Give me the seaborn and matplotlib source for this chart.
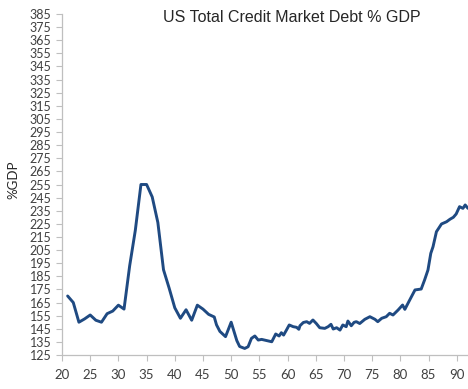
import matplotlib
matplotlib.use("Agg")
import matplotlib.pyplot as plt
import seaborn as sns
import pandas as pd

years = [21, 22, 23, 24, 25, 26, 27, 28, 29, 30, 31, 32, 33, 34, 35, 36, 37, 38, 39,
         40, 41, 42, 43, 44, 45, 46, 47, 47.4, 48, 49, 50, 51,
         51.5, 52.4, 53, 53.6, 54.2, 54.8, 55.4, 56.3, 57.2, 57.9, 58.5, 58.9, 59.3,
         59.8, 60.3, 61, 61.6, 62, 62.2, 62.8, 63.4, 63.9, 64.5, 65.1, 65.7, 66.6,
         67.2, 67.7, 68.1, 68.7, 69.3, 69.8, 70.4, 70.7, 71.3, 71.8, 72.2, 72.8,
         73.7, 74.6, 75.5, 76, 76.7, 77.5, 78.1, 78.7, 79.6, 80.4, 80.8, 81.5,
         82.6, 83.7, 84.3, 84.9, 85.4, 85.8, 86.4, 87.3, 88.2, 88.8, 89.4, 89.9,
         90.5, 91.1, 91.5, 92]
debt_pct_gdp = [170, 165, 150, 152.5, 155.5, 151.5, 150, 156.5, 158.5, 163, 160, 193, 220, 255, 255, 245.5, 226, 190, 176,
                161, 153, 159.5, 151.5, 163, 160, 156, 154, 148, 143, 139, 150, 136,
                131.5, 130, 131.3, 137.7, 139.5, 136.4, 136.9, 136, 135.1, 141, 139.5, 142, 140.2,
                144, 147.9, 146.6, 146.1, 144.6, 147.3, 149.8, 150.4, 149.1, 151.7, 149, 145.8, 145.3,
                146.6, 148.4, 144.8, 145.8, 144, 147.9, 146.6, 150.9, 147.3, 149.9, 150.4, 149,
                152.2, 154.2, 152.2, 150.4, 153, 154.2, 156.8, 155.5, 159.3, 163.1, 159.8, 165.6,
                174.6, 175.3, 182.2, 189.8, 202.5, 207.6, 219, 224.9, 226.6, 228.5, 230, 232.5,
                238.1, 236.8, 239.4, 236.8]

y_ticks = list(range(125, 386, 10))
x_ticks = list(range(20, 91, 5))

df = pd.DataFrame({"year": years, "pct": debt_pct_gdp})

sns.set_style("white")
plt.rcParams["font.family"] = ["Lato", "DejaVu Sans"]

fig = plt.figure(figsize=(4.68, 3.89), dpi=100)
ax = fig.add_axes([62/468, 1 - 355/389, 1 - 62/468, (355 - 14)/389])

sns.lineplot(data=df, x="year", y="pct", ax=ax, color="#1F4A82", linewidth=2.1)

ax.set_xlim(20, 92)
ax.set_ylim(125, 385)
ax.set_yticks(y_ticks)
ax.set_xticks(x_ticks)
ax.set_xlabel("")
ax.set_ylabel("")
ax.tick_params(axis="both", which="major", direction="out", length=4, width=0.8,
               color="#bfbfbf", labelcolor="#404040", labelsize=9, left=True, bottom=True)
ax.tick_params(axis="x", pad=6, labelsize=9.5)
for s in ["top", "right"]:
    ax.spines[s].set_visible(False)
for s in ["left", "bottom"]:
    ax.spines[s].set_color("#bfbfbf")
    ax.spines[s].set_linewidth(0.9)
ax.set_facecolor("white")

fig.text(292/468, 1 - 17/389, "US Total Credit Market Debt % GDP", ha="center", va="center",
         fontsize=11.5, color="#262626", family=["Liberation Sans", "DejaVu Sans"])
fig.text(13/468, 1 - 180/389, "%GDP", rotation=90, ha="center", va="center",
         fontsize=9.5, color="#262626")

fig.savefig("out.png", dpi=100)
